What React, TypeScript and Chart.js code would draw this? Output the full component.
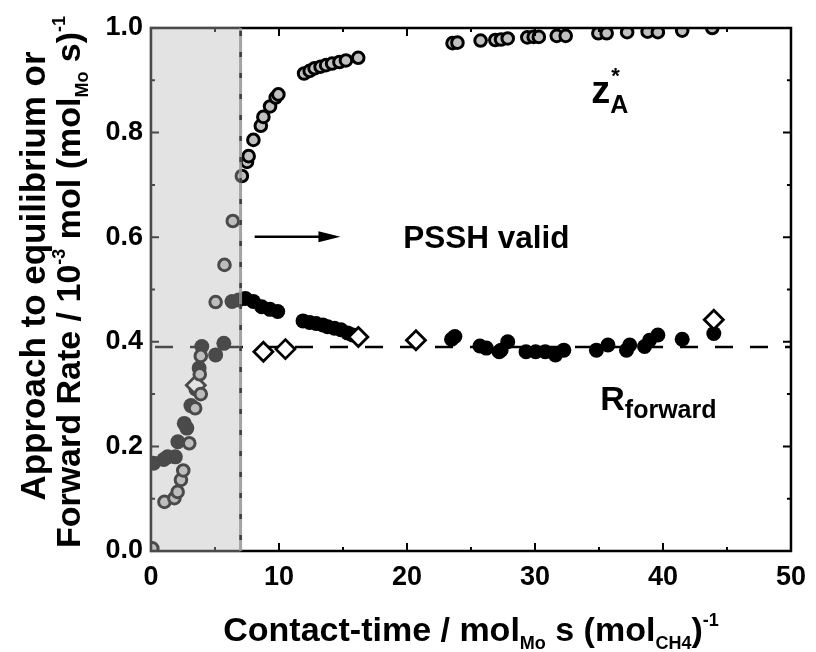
import React, { useEffect, useRef } from "react";
import { Chart, registerables } from "chart.js";

Chart.register(...registerables);

// ---- data ----
const zAX = [0.1, 1.05, 1.83, 2.08, 2.34, 2.52, 2.99, 3.45, 3.81, 3.89, 3.89, 5.05, 5.74, 6.39, 7.1, 7.5, 7.63, 8.0, 8.58, 8.78, 9.3, 9.74, 9.95, 11.96, 12.4, 12.78, 13.25, 13.68, 14.15, 14.72, 15.23, 16.19, 23.56, 23.94, 25.75, 26.9, 27.35, 27.87, 29.4, 29.9, 30.3, 31.7, 32.4, 34.95, 35.6, 37.2, 38.8, 39.6, 41.5, 43.85];
const zAY = [0.005, 0.094, 0.101, 0.113, 0.136, 0.154, 0.206, 0.273, 0.338, 0.3, 0.373, 0.476, 0.547, 0.631, 0.717, 0.744, 0.755, 0.786, 0.813, 0.83, 0.85, 0.867, 0.873, 0.913, 0.918, 0.923, 0.926, 0.929, 0.932, 0.935, 0.938, 0.943, 0.971, 0.972, 0.976, 0.977, 0.978, 0.98, 0.982, 0.983, 0.983, 0.985, 0.985, 0.99, 0.99, 0.992, 0.993, 0.992, 0.995, 1.0];

const rateX = [0.2, 1.0, 1.3, 1.9, 2.1, 2.6, 2.8, 3.12, 3.5, 3.76, 3.97, 5.05, 5.69, 6.33, 6.85, 7.37, 8.0, 8.65, 9.3, 9.9, 11.88, 12.4, 12.9, 13.43, 13.8, 14.33, 14.84, 15.36, 15.75, 23.48, 23.74, 25.7, 26.2, 27.2, 27.35, 27.87, 29.3, 30.05, 30.8, 31.6, 32.25, 34.8, 35.7, 37.15, 37.4, 38.56, 38.95, 39.6, 41.5, 43.97];
const rateY = [0.168, 0.175, 0.18, 0.18, 0.209, 0.244, 0.235, 0.278, 0.31, 0.35, 0.391, 0.375, 0.397, 0.477, 0.48, 0.483, 0.477, 0.467, 0.462, 0.458, 0.44, 0.437, 0.435, 0.432, 0.429, 0.426, 0.423, 0.417, 0.413, 0.405, 0.41, 0.392, 0.388, 0.381, 0.384, 0.4, 0.381, 0.381, 0.381, 0.375, 0.384, 0.384, 0.394, 0.384, 0.394, 0.391, 0.403, 0.413, 0.405, 0.416];

const diaX = [3.5, 8.78, 10.5, 16.2, 20.7, 43.97];
const diaY = [0.317, 0.381, 0.386, 0.409, 0.403, 0.442];

const EQ_RATE = 0.39; // dashed horizontal line
const PSSH_LIMIT = 7; // shaded region 0..7
const X_MIN = 0, X_MAX = 50, X_STEP = 10;
const Y_MIN = 0, Y_MAX = 1, Y_STEP = 0.2;

const FAMILY = '"Liberation Sans", Arial, Helvetica, sans-serif';
const f = (size: number, bold = true) => `${bold ? "bold " : ""}${size}px ${FAMILY}`;

type Run = { t: string; size: number; dy: number };

const X_TITLE: Run[] = [
  { t: "Contact-time / mol", size: 34, dy: 0 },
  { t: "Mo", size: 18, dy: 8 },
  { t: " s (mol", size: 34, dy: 0 },
  { t: "CH4", size: 18, dy: 8 },
  { t: ")", size: 34, dy: 0 },
  { t: "-1", size: 18, dy: -15 },
];
const Y_TITLE_1: Run[] = [{ t: "Approach to equilibrium or", size: 35, dy: 0 }];
const Y_TITLE_2: Run[] = [
  { t: "Forward Rate / 10", size: 34, dy: 0 },
  { t: "-3", size: 18, dy: -15 },
  { t: " mol (mol", size: 34, dy: 0 },
  { t: "Mo", size: 18, dy: 8 },
  { t: " s)", size: 34, dy: 0 },
  { t: "-1", size: 18, dy: -15 },
];

function runsWidth(ctx: CanvasRenderingContext2D, runs: Run[]) {
  let w = 0;
  for (const r of runs) {
    ctx.font = f(r.size);
    w += ctx.measureText(r.t).width;
  }
  return w;
}

function drawRuns(ctx: CanvasRenderingContext2D, runs: Run[], x: number, y: number, align: "left" | "center") {
  ctx.textAlign = "left";
  ctx.textBaseline = "alphabetic";
  ctx.fillStyle = "#000";
  let cx = align === "center" ? x - runsWidth(ctx, runs) / 2 : x;
  for (const r of runs) {
    ctx.font = f(r.size);
    ctx.fillText(r.t, cx, y + r.dy);
    cx += ctx.measureText(r.t).width;
  }
}

const decor = {
  id: "decor",
  beforeDatasetsDraw(chart: any) {
    const { ctx, chartArea: a, scales } = chart;
    const y = scales.y.getPixelForValue(EQ_RATE);
    ctx.save();
    ctx.strokeStyle = "#000";
    ctx.lineWidth = 2.5;
    ctx.setLineDash([18, 17]);
    ctx.lineDashOffset = -4;
    ctx.beginPath();
    ctx.moveTo(a.left, y);
    ctx.lineTo(a.right, y);
    ctx.stroke();
    ctx.restore();
  },
  afterDatasetsDraw(chart: any) {
    const { ctx, chartArea: a, scales } = chart;
    const xs = scales.x, ys = scales.y;
    const X = (v: number) => xs.getPixelForValue(v);
    const Y = (v: number) => ys.getPixelForValue(v);
    ctx.save();
    // frame
    ctx.strokeStyle = "#000";
    ctx.lineWidth = 2.5;
    ctx.setLineDash([]);
    ctx.strokeRect(a.left, a.top, a.right - a.left, a.bottom - a.top);
    // ticks
    ctx.lineWidth = 2;
    ctx.beginPath();
    for (let v = X_MIN; v <= X_MAX + 1e-9; v += X_STEP / 2) {
      const major = Math.abs(v / X_STEP - Math.round(v / X_STEP)) < 1e-6;
      const len = major ? 8 : 4;
      const px = X(v);
      ctx.moveTo(px, a.bottom); ctx.lineTo(px, a.bottom - len);
      ctx.moveTo(px, a.top); ctx.lineTo(px, a.top + len);
    }
    for (let i = 0; i <= 10; i++) {
      const v = Y_MIN + i * (Y_STEP / 2);
      const major = i % 2 === 0;
      const len = major ? 8 : 4;
      const py = Y(v);
      ctx.moveTo(a.left, py); ctx.lineTo(a.left + len, py);
      ctx.moveTo(a.right, py); ctx.lineTo(a.right - len, py);
    }
    ctx.stroke();

    // shaded non-PSSH region
    const x0 = X(0), x7 = X(PSSH_LIMIT);
    ctx.fillStyle = "rgba(185,185,185,0.4)";
    ctx.fillRect(x0 - 1.5, a.top - 1.5, x7 - x0 + 1.5, a.bottom - a.top + 3);
    ctx.strokeStyle = "rgba(150,150,150,0.85)";
    ctx.lineWidth = 3;
    ctx.beginPath();
    ctx.moveTo(x7, a.top); ctx.lineTo(x7, a.bottom);
    ctx.stroke();
    ctx.strokeStyle = "#3c3c3c";
    ctx.lineWidth = 2.5;
    ctx.setLineDash([5, 16]);
    ctx.beginPath();
    ctx.moveTo(x7, a.top + 3); ctx.lineTo(x7, a.bottom);
    ctx.stroke();
    ctx.setLineDash([]);

    // arrow + PSSH valid
    const ay = Y(0.601);
    const ax0 = X(8.1), ax1 = X(14.8);
    ctx.strokeStyle = "#000";
    ctx.fillStyle = "#000";
    ctx.lineWidth = 2.5;
    ctx.beginPath();
    ctx.moveTo(ax0, ay); ctx.lineTo(ax1 - 18, ay);
    ctx.stroke();
    ctx.beginPath();
    ctx.moveTo(ax1, ay); ctx.lineTo(ax1 - 22, ay - 5.5); ctx.lineTo(ax1 - 22, ay + 5.5); ctx.closePath();
    ctx.fill();
    drawRuns(ctx, [{ t: "PSSH valid", size: 31.5, dy: 0 }], X(19.7), Y(0.58), "left");

    // z*_A label
    const zx = X(34.4), zy = Y(0.856);
    ctx.font = f(38);
    const zw = ctx.measureText("z").width;
    drawRuns(ctx, [{ t: "z", size: 38, dy: 0 }], zx, zy, "left");
    drawRuns(ctx, [{ t: "A", size: 25, dy: 10 }], zx + zw, zy, "left");
    drawRuns(ctx, [{ t: "*", size: 22, dy: -20 }], zx + zw + 1, zy, "left");

    // R_forward label
    drawRuns(ctx, [{ t: "R", size: 34, dy: 0 }, { t: "forward", size: 25, dy: 8 }], X(35.1), Y(0.27), "left");

    // axis titles
    drawRuns(ctx, X_TITLE, (a.left + a.right) / 2, 641, "center");
    ctx.save();
    ctx.translate(45, 276);
    ctx.rotate(-Math.PI / 2);
    drawRuns(ctx, Y_TITLE_1, 0, 0, "center");
    ctx.restore();
    ctx.save();
    ctx.translate(80, 282);
    ctx.rotate(-Math.PI / 2);
    drawRuns(ctx, Y_TITLE_2, 0, 0, "center");
    ctx.restore();

    ctx.restore();
  },
};

export default function App() {
  const ref = useRef<HTMLCanvasElement | null>(null);
  useEffect(() => {
    if (!ref.current) return;
    const pts = (xs: number[], ys: number[]) => xs.map((x, i) => ({ x, y: ys[i] }));
    const chart = new Chart(ref.current, {
      type: "scatter",
      data: {
        datasets: [
          {
            label: "z*A",
            data: pts(zAX, zAY),
            pointStyle: "circle",
            pointRadius: 5.8,
            pointBackgroundColor: "#c0c0c0",
            pointBorderColor: "#000",
            pointBorderWidth: 3,
            clip: 0,
            order: 1,
          } as any,
          {
            label: "diamonds",
            data: pts(diaX, diaY),
            pointStyle: "rectRot",
            pointRadius: 9.5,
            pointBackgroundColor: "#fff",
            pointBorderColor: "#000",
            pointBorderWidth: 2.8,
            clip: 0,
            order: 2,
          } as any,
          {
            label: "R forward",
            data: pts(rateX, rateY),
            pointStyle: "circle",
            pointRadius: 7.5,
            pointBackgroundColor: "#000",
            pointBorderColor: "#000",
            pointBorderWidth: 0,
            clip: 0,
            order: 3,
          } as any,
        ],
      },
      options: {
        animation: false,
        responsive: false,
        devicePixelRatio: 1,
        events: [],
        layout: { padding: { left: 0, top: 28, right: 18, bottom: 0 } },
        plugins: { legend: { display: false }, tooltip: { enabled: false }, title: { display: false } },
        scales: {
          x: {
            type: "linear",
            min: X_MIN,
            max: X_MAX,
            afterFit: (s: any) => { s.height = 101; },
            grid: { display: false, drawTicks: false },
            border: { display: false },
            ticks: {
              stepSize: X_STEP,
              autoSkip: false,
              maxRotation: 0,
              padding: 10,
              color: "#000",
              font: { family: FAMILY, size: 27, weight: "bold" },
            },
          },
          y: {
            type: "linear",
            min: Y_MIN,
            max: Y_MAX,
            afterFit: (s: any) => { s.width = 151; },
            grid: { display: false, drawTicks: false },
            border: { display: false },
            ticks: {
              stepSize: Y_STEP,
              padding: 8,
              color: "#000",
              font: { family: FAMILY, size: 27, weight: "bold" },
              callback: (v: any) => Number(v).toFixed(1),
            },
          },
        },
      },
      plugins: [decor],
    });
    return () => chart.destroy();
  }, []);
  return (
    <div style={{ position: "fixed", left: 0, top: 0, width: 816, height: 652, background: "#fff" }}>
      <canvas ref={ref} width={816} height={652} style={{ display: "block" }} />
    </div>
  );
}
